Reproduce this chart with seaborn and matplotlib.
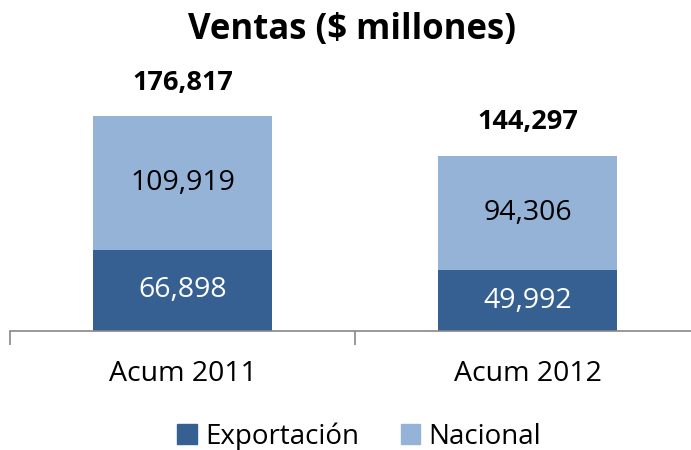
import matplotlib.pyplot as plt
import matplotlib.ticker as mticker
import pandas as pd
import seaborn as sns
from matplotlib.patches import Patch

periodos = ['Acum 2011', 'Acum 2012']
exportacion = [66898, 49992]
nacional = [109919, 94306]
totales = [176817, 144297]

color_exp = '#376092'
color_nac = '#95B3D7'

sns.set_style('white')
plt.rcParams['font.family'] = ['Open Sans', 'DejaVu Sans']
plt.rcParams['text.color'] = 'black'
plt.rcParams['xtick.color'] = 'black'

df = pd.DataFrame({'periodo': periodos, 'Exportación': exportacion,
                   'Nacional': nacional, 'Total': totales})

fig = plt.figure(figsize=(6.91, 4.5), dpi=100)
# axes runs past the right edge on purpose, like the original
ax = fig.add_axes([10 / 691, (450 - 331) / 450, 690 / 691, 243 / 450])

# stacked look: total (light) first, exportacion (dark) drawn over it
sns.barplot(data=df, x='periodo', y='Total', color=color_nac, width=0.52,
            saturation=1, linewidth=0, ax=ax)
sns.barplot(data=df, x='periodo', y='Exportación', color=color_exp, width=0.52,
            saturation=1, linewidth=0, ax=ax)

ax.set_xlim(-0.5, 1.5)
ax.set_ylim(0, 200000)
ax.set_xlabel('')
ax.set_ylabel('')
ax.set_yticks([])
for s in ['top', 'right', 'left']:
    ax.spines[s].set_visible(False)
ax.spines['bottom'].set_color('#868686')
ax.spines['bottom'].set_linewidth(1.2)

ax.set_xticks(range(len(periodos)))
ax.set_xticklabels(periodos, fontsize=20.5, color='black')
ax.tick_params(axis='x', which='major', length=0, pad=21)
ax.xaxis.set_minor_locator(mticker.FixedLocator([-0.5, 0.5, 1.5]))
ax.tick_params(axis='x', which='minor', length=10, width=1.2, color='#868686',
               direction='out', bottom=True)

for i in range(len(periodos)):
    ax.text(i, exportacion[i] / 2, f'{exportacion[i]:,}', ha='center', va='center',
            fontsize=20.5, color='white')
    ax.text(i, exportacion[i] + nacional[i] / 2, f'{nacional[i]:,}', ha='center',
            va='center', fontsize=20.5, color='black')
    ax.annotate(f'{totales[i]:,}', (i, totales[i]), xytext=(0, 24),
                textcoords='offset points', ha='center', va='center',
                fontsize=19.5, fontweight='bold', color='black')

fig.text(0.51, 0.933, 'Ventas ($ millones)', ha='center', va='center',
         fontsize=25, fontweight='bold', color='black')

handles = [Patch(color=color_exp, label='Exportación'),
           Patch(color=color_nac, label='Nacional')]
fig.legend(handles=handles, loc='center', bbox_to_anchor=(0.52, 0.03), ncol=2,
           frameon=False, fontsize=20, handlelength=0.7, handleheight=0.7,
           handletextpad=0.3, columnspacing=1.5)

fig.savefig('out.png', dpi=100)
